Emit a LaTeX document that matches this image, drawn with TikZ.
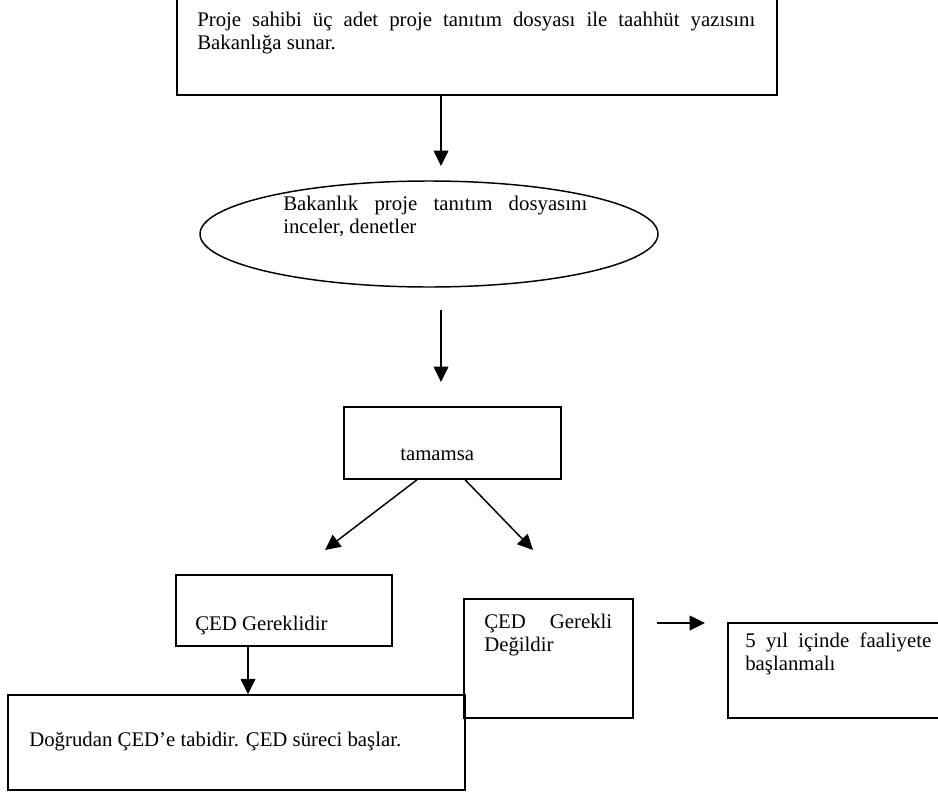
\documentclass[tikz,border=0pt]{standalone}
\usepackage{fontspec}
\setmainfont{Liberation Serif}
\usetikzlibrary{arrows.meta,shapes.geometric,fit}
\begin{document}
\begin{tikzpicture}[x=0.75pt,y=-0.75pt,
  box/.style={draw,line width=1.1pt,inner sep=0pt},
  arr/.style={line width=1.1pt,-{Triangle[length=11.5pt,width=11pt]}},
  txt/.style={inner sep=0pt,anchor=west,align=left,font=\fontsize{15.6}{17.25}\selectfont},
]
\clip (0,0) rectangle (938,796);
\fill[white] (0,0) rectangle (938,796);

% boxes
\node[box,fit={(177,-5) (777,95)}] (b1) {};
\node[draw,ellipse,line width=1.1pt,minimum width=343.5pt,minimum height=79.5pt,inner sep=0pt] (e1) at (429,234) {};
\node[box,fit={(344,407) (561,479)}] (b3) {};
\node[box,fit={(176,575) (392,646)}] (b4) {};
\node[box,fit={(464,599) (633,718)}] (b5) {};
\node[box,fit={(8,695) (465,790)}] (b6) {};
\node[box,fit={(728,623) (960,718)}] (b7) {};

% texts
\node[txt] (t1) at (197,33.5) {\makebox[418.5pt][s]{Proje sahibi üç adet proje tanıtım dosyası ile taahhüt yazısını}\\Bakanlığa sunar.};
\node[txt] (t2) at (283,216.5) {\makebox[228pt][s]{Bakanlık proje tanıtım dosyasını}\\inceler, denetler};
\node[txt] (t3) at (400,455) {tamamsa};
\node[txt] (t4) at (195,625) {ÇED Gereklidir};
\node[txt] (t5) at (484,635) {\makebox[96pt][s]{ÇED Gerekli}\\Değildir};
\node[txt] (t6) at (29,742) {Doğrudan ÇED’e tabidir. ÇED süreci başlar.};
\node[txt] (t7) at (745,654) {\makebox[139.5pt][s]{5 yıl içinde faaliyete}\\başlanmalı};

% connectors
\coordinate (a1e) at (441,166);
\draw[arr] ([xshift=-27pt]b1.south) -- (a1e);
\coordinate (a2s) at (441,310);
\coordinate (a2e) at (441,382);
\draw[arr] (a2s) -- (a2e);
\coordinate (a3e) at (325,550);
\draw[arr] ([xshift=-26.6pt]b3.south) -- (a3e);
\coordinate (a4e) at (533,550);
\draw[arr] ([xshift=9.4pt]b3.south) -- (a4e);
\draw[arr] ([xshift=-27pt]b4.south) -- ([xshift=-27pt]b4.south |- b6.north);
\coordinate (a6s) at (657,623);
\coordinate (a6e) at (705,623);
\draw[arr] (a6s) -- (a6e);
\end{tikzpicture}
\end{document}
